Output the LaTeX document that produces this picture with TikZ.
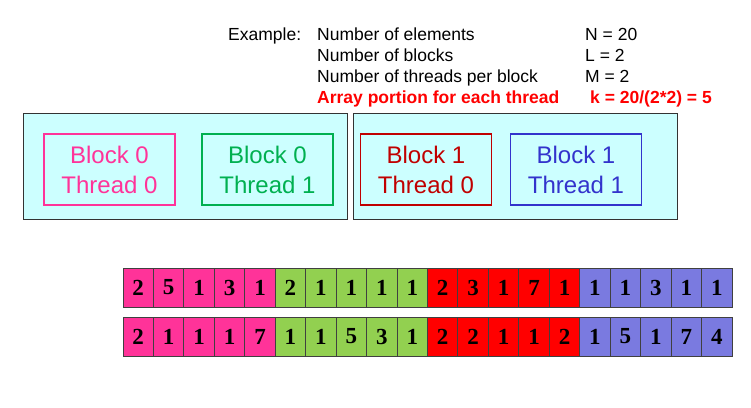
\documentclass[tikz,border=0pt]{standalone}
\usepackage{fontspec}
\setmainfont{Liberation Sans}
\newfontfamily\cellfont{Liberation Serif}
\definecolor{tpink}{RGB}{255,51,153}
\definecolor{tgreen}{RGB}{0,176,80}
\definecolor{tred}{RGB}{192,0,0}
\definecolor{tblue}{RGB}{51,51,204}
\definecolor{cpink}{RGB}{255,51,153}
\definecolor{cgreen}{RGB}{146,208,80}
\definecolor{cred}{RGB}{255,0,0}
\definecolor{cblue}{RGB}{122,122,224}
\definecolor{blockfill}{RGB}{204,255,255}

\begin{document}
\begin{tikzpicture}[x=1pt,y=1pt]
\tikzset{info/.style={anchor=base west, inner sep=0pt, font=\fontsize{17.5}{21}\selectfont}}
\tikzset{blockbox/.style={draw=black!80, fill=blockfill, line width=0.9pt, minimum width=324pt, minimum height=106pt, inner sep=0pt}}
\tikzset{threadbox/.style={draw=#1, text=#1, line width=1.3pt, minimum width=131pt, minimum height=71pt, align=center, inner sep=0pt, font=\fontsize{24}{30}\selectfont}}
\tikzset{cell/.style={draw=black!75, fill=#1, line width=1pt, minimum width=30.45pt, minimum height=39pt, inner sep=0pt, font=\cellfont\bfseries\fontsize{23}{23}\selectfont}}
\useasboundingbox (0,0) rectangle (751,-407);
\node[info] (ex) at (228,-40) {Example:};
\node[info] (n1) at (317,-40) {Number of elements};
\node[info] (v1) at (585,-40) {N = 20};
\node[info] (n2) at (317,-61) {Number of blocks};
\node[info] (v2) at (585,-61) {L = 2};
\node[info] (n3) at (317,-82) {Number of threads per block};
\node[info] (v3) at (585,-82) {M = 2};
\node[info, text=cred, font=\fontsize{17.5}{21}\selectfont\bfseries] (n4) at (317,-103) {Array portion for each thread};
\node[info, text=cred, font=\fontsize{17.5}{21}\selectfont\bfseries] (v4) at (590,-103) {k = 20/(2*2) = 5};
\node[blockbox] (b0) at (185,-166) {};
\node[blockbox] (b1) at (515,-166) {};
\node[threadbox=tpink] (b0t0) at (109.5,-169.5) {Block 0\\Thread 0};
\node[threadbox=tgreen] (b0t1) at (267.5,-169.5) {Block 0\\Thread 1};
\node[threadbox=tred] (b1t0) at (426,-169.5) {Block 1\\Thread 0};
\node[threadbox=tblue] (b1t1) at (576,-169.5) {Block 1\\Thread 1};
\foreach \col/\va/\vb [count=\g from 0] in {cpink/{2,5,1,3,1}/{2,1,1,1,7}, cgreen/{2,1,1,1,1}/{1,1,5,3,1}, cred/{2,3,1,7,1}/{2,2,1,1,2}, cblue/{1,1,3,1,1}/{1,5,1,7,4}} {
  \foreach \v [count=\j from 0, evaluate=\j as \k using int(5*\g+\j)] in \va
    \node[cell=\col] (r1c\k) at (138.225+30.45*\k,-287.5) {\v};
  \foreach \v [count=\j from 0, evaluate=\j as \k using int(5*\g+\j)] in \vb
    \node[cell=\col] (r2c\k) at (138.225+30.45*\k,-336.5) {\v};
}
\end{tikzpicture}
\end{document}
